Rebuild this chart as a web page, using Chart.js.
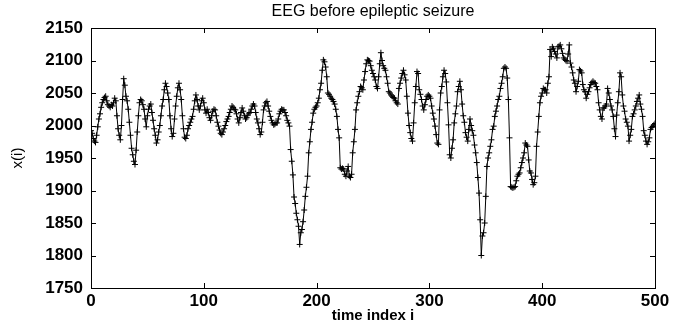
<!DOCTYPE html>
<html>
<head>
<meta charset="utf-8">
<script src="https://cdn.jsdelivr.net/npm/chart.js@4/dist/chart.umd.min.js"></script>
<style>
html,body{margin:0;padding:0;background:#fff;}
#wrap{width:677px;height:325px;position:relative;}
</style>
</head>
<body>
<div id="wrap"><canvas id="c" width="677" height="325"></canvas></div>
<script>
const chartTitle = "EEG before epileptic seizure";
const xAxisLabel = "time index i";
const yAxisLabel = "x(i)";
const xTicks = [0, 100, 200, 300, 400, 500];
const yTicks = [1750, 1800, 1850, 1900, 1950, 2000, 2050, 2100, 2150];

// EEG samples, index 0..500
const eegValues = [
  1992,1988,1980,1976,1974,1985,1998,2010,2018,2028,
  2035,2040,2043,2045,2038,2032,2030,2028,2032,2030,
  2035,2042,2038,2015,1995,1985,1978,2000,2040,2072,
  2062,2045,2038,2025,2005,1985,1965,1955,1945,1940,
  1962,1990,2015,2035,2040,2038,2032,2025,2010,1998,
  2015,2025,2030,2033,2020,2008,1995,1985,1973,1978,
  1990,2000,2015,2030,2040,2055,2065,2060,2050,2040,
  2015,1995,1983,1988,2010,2030,2045,2058,2065,2055,
  2040,2015,1995,1982,1980,1985,1995,2000,2005,2010,
  2014,2025,2038,2047,2040,2030,2024,2030,2038,2042,
  2035,2024,2019,2025,2020,2012,2008,2015,2022,2025,
  2024,2015,2005,1999,1993,1988,1986,1990,1995,2000,
  2006,2010,2014,2020,2025,2030,2028,2025,2024,2018,
  2010,2004,2012,2020,2027,2022,2015,2010,2012,2016,
  2019,2020,2025,2030,2033,2030,2020,2010,2004,1995,
  1986,1990,2005,2024,2030,2035,2037,2030,2022,2014,
  2008,2004,2001,2002,2004,2004,2010,2018,2022,2025,
  2024,2024,2020,2015,2008,2004,1999,1963,1945,1924,
  1890,1880,1865,1855,1845,1817,1835,1840,1852,1870,
  1891,1905,1922,1958,1975,1994,2005,2019,2025,2028,
  2030,2035,2042,2055,2065,2085,2101,2098,2090,2075,
  2050,2048,2045,2042,2040,2037,2033,2025,2014,1994,
  1981,1935,1933,1934,1933,1925,1922,1930,1937,1922,
  1920,1925,1958,1975,1994,2024,2035,2045,2052,2060,
  2058,2055,2070,2083,2095,2101,2100,2099,2092,2085,
  2080,2075,2070,2060,2057,2075,2095,2112,2100,2092,
  2088,2085,2075,2065,2052,2050,2047,2045,2043,2042,
  2038,2035,2033,2057,2065,2073,2080,2085,2078,2070,
  2045,2019,2000,1989,1980,1976,2004,2035,2060,2083,
  2080,2055,2048,2040,2030,2024,2032,2040,2045,2047,
  2045,2042,2030,2019,2010,1999,1986,1973,1971,2024,
  2050,2060,2075,2085,2080,2067,2035,2001,1955,1950,
  1965,1978,2004,2018,2030,2052,2060,2068,2055,2033,
  2015,2005,1989,1982,1976,1994,2010,2000,1992,1985,
  1970,1958,1943,1920,1896,1855,1800,1830,1835,1850,
  1891,1937,1950,1958,1968,1978,1994,1999,2014,2022,
  2030,2040,2045,2057,2065,2075,2088,2090,2088,2073,
  2040,1981,1906,1905,1904,1905,1906,1915,1922,1925,
  1927,1935,1943,1950,1958,1973,1970,1968,1947,1930,
  1927,1917,1909,1912,1922,1968,1990,2014,2035,2045,
  2050,2057,2055,2055,2050,2065,2075,2117,2106,2121,
  2118,2114,2110,2104,2121,2122,2124,2118,2111,2104,
  2102,2100,2099,2110,2124,2096,2090,2081,2070,2065,
  2052,2060,2068,2086,2084,2081,2063,2055,2052,2042,
  2048,2052,2058,2063,2066,2068,2066,2065,2060,2055,
  2035,2024,2014,2010,2027,2027,2030,2033,2057,2050,
  2040,2030,2024,2014,1995,1983,2016,2035,2052,2081,
  2075,2047,2030,2022,2010,2005,1999,1976,1985,1994,
  2014,2018,2024,2030,2037,2042,2047,2033,2025,2014,
  1992,1985,1976,1971,1975,1981,1994,1997,1999,2001,
  2003
];

const points = eegValues.map((v, i) => ({x: i, y: v}));

const FONT = "'Liberation Sans', Arial, Helvetica, sans-serif";

const framePlugin = {
  id: 'frame',
  afterDraw(chart) {
    const {ctx, chartArea: a, scales} = chart;
    ctx.save();
    ctx.strokeStyle = '#000';
    ctx.lineWidth = 1;
    ctx.strokeRect(Math.round(a.left) + 0.5, Math.round(a.top) + 0.5,
                   Math.round(a.right - a.left), Math.round(a.bottom - a.top));
    const tl = 5;
    ctx.beginPath();
    scales.x.ticks.forEach(t => {
      const px = Math.round(scales.x.getPixelForValue(t.value)) + 0.5;
      ctx.moveTo(px, a.bottom); ctx.lineTo(px, a.bottom - tl);
      ctx.moveTo(px, a.top); ctx.lineTo(px, a.top + tl);
    });
    scales.y.ticks.forEach(t => {
      const py = Math.round(scales.y.getPixelForValue(t.value)) + 0.5;
      ctx.moveTo(a.left, py); ctx.lineTo(a.left + tl, py);
      ctx.moveTo(a.right, py); ctx.lineTo(a.right - tl, py);
    });
    ctx.stroke();
    // title centered over plot area
    ctx.fillStyle = '#000';
    ctx.font = "16px " + FONT;
    ctx.textAlign = 'center';
    ctx.textBaseline = 'middle';
    ctx.fillText(chartTitle, (a.left + a.right) / 2, 12);
    ctx.restore();
  }
};

new Chart(document.getElementById('c'), {
  type: 'line',
  data: {
    datasets: [{
      data: points,
      borderColor: '#000',
      backgroundColor: '#000',
      borderWidth: 1,
      pointStyle: 'cross',
      pointRadius: 3,
      pointBorderWidth: 1,
      pointBorderColor: '#000',
      tension: 0,
      fill: false
    }]
  },
  options: {
    responsive: false,
    animation: false,
    events: [],
    layout: { padding: { top: 28, right: 22, left: 0, bottom: 0 } },
    plugins: { legend: { display: false }, title: { display: false }, tooltip: { enabled: false } },
    scales: {
      x: {
        type: 'linear',
        min: 0, max: 500,
        afterBuildTicks(s) { s.ticks = xTicks.map(v => ({value: v})); },
        afterFit(s) { s.height = 37; },
        grid: { display: false, drawTicks: false },
        border: { display: false },
        ticks: { color: '#000', padding: 3, callback: v => String(v),
                 font: { family: FONT, size: 17, weight: 'bold' }, maxRotation: 0 },
        title: { display: true, text: xAxisLabel, color: '#000', padding: 0,
                 font: { family: FONT, size: 15, weight: 'bold' } }
      },
      y: {
        min: 1750, max: 2150,
        afterBuildTicks(s) { s.ticks = yTicks.map(v => ({value: v})); },
        afterFit(s) { s.width = 91; },
        grid: { display: false, drawTicks: false },
        border: { display: false },
        ticks: { color: '#000', padding: 8, callback: v => String(v),
                 font: { family: FONT, size: 17, weight: 'bold' } },
        title: { display: true, text: yAxisLabel, color: '#000', padding: 9,
                 font: { family: FONT, size: 15, weight: 'normal' } }
      }
    }
  },
  plugins: [framePlugin]
});
</script>
</body>
</html>
